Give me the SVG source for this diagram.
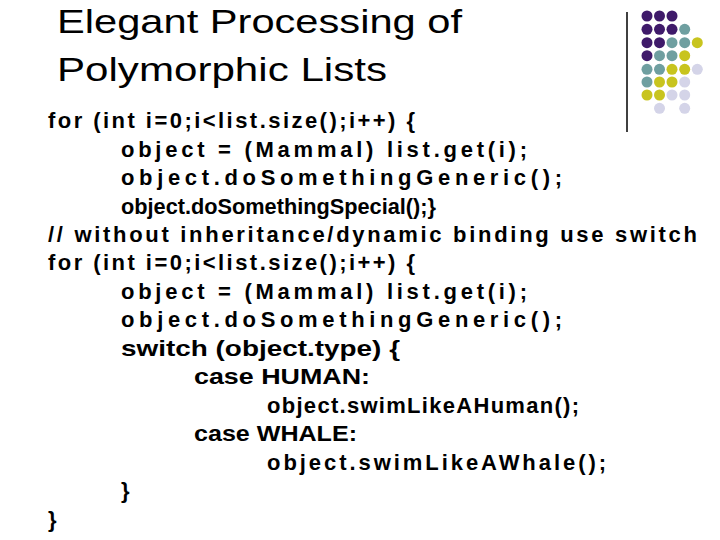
<svg xmlns="http://www.w3.org/2000/svg" width="720" height="540" viewBox="0 0 720 540">
<style>
.t{font-family:"Liberation Sans",Arial,sans-serif;font-size:34px;fill:#000}
.b{font-family:"Liberation Sans",Arial,sans-serif;font-size:22px;font-weight:bold;fill:#000}
.p{fill:#3f1a6a}.g{fill:#6f9fa0}.y{fill:#c8c41e}.l{fill:#d4d4e8}
</style>
<rect width="720" height="540" fill="#fff"/>
<g id="title"><text class="t" x="57" y="33" textLength="405" lengthAdjust="spacingAndGlyphs">Elegant Processing of</text><text class="t" x="57" y="81" textLength="330" lengthAdjust="spacingAndGlyphs">Polymorphic Lists</text></g>
<line x1="627" y1="12" x2="627" y2="132" stroke="#000" stroke-width="1.5"/>
<g id="dots">
<circle class="p" cx="647" cy="16" r="5.5"/><circle class="p" cx="659.5" cy="16" r="5.5"/><circle class="p" cx="672" cy="16" r="5.5"/>
<circle class="p" cx="647" cy="29.3" r="5.5"/><circle class="p" cx="659.5" cy="29.3" r="5.5"/><circle class="p" cx="672" cy="29.3" r="5.5"/><circle class="g" cx="684.7" cy="29.3" r="5.5"/>
<circle class="p" cx="647" cy="42.7" r="5.5"/><circle class="p" cx="659.5" cy="42.7" r="5.5"/><circle class="g" cx="672" cy="42.7" r="5.5"/><circle class="g" cx="684.7" cy="42.7" r="5.5"/><circle class="y" cx="697.3" cy="42.7" r="5.5"/>
<circle class="p" cx="647" cy="55.7" r="5.5"/><circle class="g" cx="659.5" cy="55.7" r="5.5"/><circle class="g" cx="672" cy="55.7" r="5.5"/><circle class="y" cx="684.7" cy="55.7" r="5.5"/>
<circle class="g" cx="647" cy="69.3" r="5.5"/><circle class="g" cx="659.5" cy="69.3" r="5.5"/><circle class="y" cx="672" cy="69.3" r="5.5"/><circle class="y" cx="684.7" cy="69.3" r="5.5"/><circle class="l" cx="697.3" cy="69.3" r="5.5"/>
<circle class="g" cx="647" cy="82" r="5.5"/><circle class="y" cx="659.5" cy="82" r="5.5"/><circle class="y" cx="672" cy="82" r="5.5"/><circle class="l" cx="684.7" cy="82" r="5.5"/>
<circle class="y" cx="647" cy="95" r="5.5"/><circle class="y" cx="659.5" cy="95" r="5.5"/><circle class="l" cx="672" cy="95" r="5.5"/><circle class="l" cx="684.7" cy="95" r="5.5"/>
<circle class="l" cx="659.5" cy="108.3" r="5.5"/><circle class="l" cx="684.7" cy="108.3" r="5.5"/>
</g>
<g id="code">
<text class="b" x="48" y="128" textLength="367">for (int i=0;i&lt;list.size();i++) {</text>
<text class="b" x="121" y="157" textLength="406">object = (Mammal) list.get(i);</text>
<text class="b" x="121" y="185" textLength="441">object.doSomethingGeneric();</text>
<text class="b" x="121" y="214" textLength="315" lengthAdjust="spacingAndGlyphs">object.doSomethingSpecial();}</text>
<text class="b" x="48" y="242" textLength="649">// without inheritance/dynamic binding use switch</text>
<text class="b" x="48" y="270" textLength="367">for (int i=0;i&lt;list.size();i++) {</text>
<text class="b" x="121" y="299" textLength="406">object = (Mammal) list.get(i);</text>
<text class="b" x="121" y="327" textLength="441">object.doSomethingGeneric();</text>
<text class="b" x="121" y="356" textLength="279" lengthAdjust="spacingAndGlyphs">switch (object.type) {</text>
<text class="b" x="194" y="384" textLength="176" lengthAdjust="spacingAndGlyphs">case HUMAN:</text>
<text class="b" x="267" y="413" textLength="312">object.swimLikeAHuman();</text>
<text class="b" x="194" y="441" textLength="163" lengthAdjust="spacingAndGlyphs">case WHALE:</text>
<text class="b" x="267" y="470" textLength="339">object.swimLikeAWhale();</text>
<text class="b" x="121" y="498">}</text>
<text class="b" x="48" y="527">}</text>
</g>
</svg>
